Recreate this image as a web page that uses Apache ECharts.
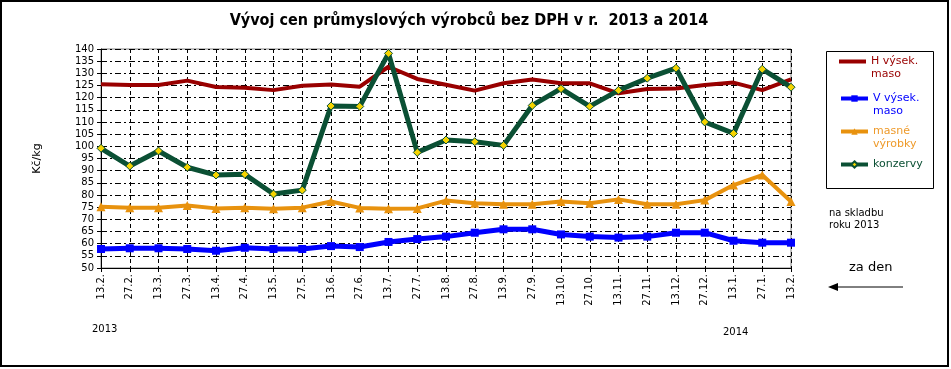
<!DOCTYPE html>
<html><head><meta charset="utf-8">
<script src="https://cdn.jsdelivr.net/npm/echarts@6/dist/echarts.min.js"></script>
<style>html,body{margin:0;padding:0;background:#fff}#c{width:951px;height:369px}</style>
</head><body><div id="c"></div>
<script>
const categories = ['13.2.','27.2.','13.3.','27.3.','13.4.','27.4.','13.5.','27.5.','13.6.','27.6.','13.7.','27.7.','13.8.','27.8.','13.9.','27.9.','13.10.','27.10.','13.11.','27.11.','13.12.','27.12.','13.1.','27.1.','13.2.'];
const hVysekMaso = [125.5,125.2,125.2,127.0,124.4,124.1,123.1,124.9,125.4,124.5,132.7,127.7,125.3,122.9,125.9,127.5,125.9,125.9,121.8,123.6,123.8,125.2,126.2,123.1,127.5];
const vVysekMaso = [57.8,58.1,58.1,57.8,57.1,58.3,57.8,57.8,59.0,58.6,60.7,61.9,62.9,64.5,65.9,65.9,63.8,62.9,62.5,62.9,64.5,64.5,61.2,60.4,60.4];
const masneVyrobky = [75.2,74.8,74.8,75.7,74.5,74.8,74.4,74.8,77.3,74.7,74.4,74.5,77.7,76.6,76.2,76.2,77.3,76.6,78.2,76.2,76.2,77.9,84.1,88.2,77.3];
const konzervy = [99.2,91.9,98.1,91.4,88.2,88.5,80.4,82.0,116.6,116.4,138.2,97.5,102.6,101.9,100.4,116.8,123.7,116.4,123.0,128.0,132.1,110.0,105.3,131.7,124.3];
const seriesNames = ['H výsek. maso','V výsek. maso','masné výrobky','konzervy'];
const yAxisTitle = 'Kč/kg';
const titleText = 'Vývoj cen průmyslových výrobců bez DPH v r.  2013 a 2014';

const FONT = 'DejaVu Sans';
const colors = {red:'#990000', blue:'#0000FF', orange:'#E8920E', green:'#0B5034', yellow:'#F5D400'};

function mkLegend(name, top, textColor, label, extra){
  return Object.assign({
    data:[name], left:839, top:top, orient:'vertical', padding:0, itemGap:0,
    itemWidth:27, itemHeight:8,
    lineStyle:{width:4},
    formatter:()=>label,
    textStyle:{fontFamily:FONT, fontSize:11, lineHeight:13, color:textColor}
  }, extra || {});
}

const chart = echarts.init(document.getElementById('c'));
chart.setOption({
  animation:false,
  backgroundColor:'#fff',
  title:{text:titleText, left:464, top:8, textAlign:'center',
    textStyle:{fontFamily:'DejaVu Sans Condensed', fontWeight:'bold', fontSize:16, color:'#000'}},
  grid:{left:101, top:49, right:160, bottom:101, show:true, borderColor:'#808080', borderWidth:1, backgroundColor:'transparent'},
  legend:[
    mkLegend(seriesNames[0], 42, colors.red, ' \nH výsek.\nmaso', {icon:'rect', itemHeight:4}),
    mkLegend(seriesNames[1], 79, colors.blue, ' \nV výsek.\nmaso'),
    mkLegend(seriesNames[2], 112, '#EE9A2A', ' \nmasné\nvýrobky'),
    mkLegend(seriesNames[3], 158, colors.green, 'konzervy')
  ],
  xAxis:{type:'category', data:categories, boundaryGap:false,
    axisLine:{lineStyle:{color:'#000', width:1}},
    axisTick:{show:true, length:4, alignWithLabel:true, lineStyle:{color:'#000'}},
    axisLabel:{rotate:90, fontFamily:FONT, fontSize:10, color:'#000', margin:6, interval:0},
    splitLine:{show:true, lineStyle:{color:'#000', type:[4,3], width:1}}
  },
  yAxis:{type:'value', min:50, max:140, interval:5,
    name:yAxisTitle, nameLocation:'middle', nameGap:58, nameRotate:90,
    nameTextStyle:{fontFamily:FONT, fontSize:11, color:'#000'},
    axisLine:{show:true, lineStyle:{color:'#000', width:1}},
    axisTick:{show:true, length:4, lineStyle:{color:'#000'}},
    axisLabel:{fontFamily:FONT, fontSize:10, color:'#000', margin:7},
    splitLine:{show:true, lineStyle:{color:'#000', type:[6,3,2,3], width:1}}
  },
  series:[
    {name:seriesNames[0], type:'line', data:hVysekMaso, symbol:'none',
      lineStyle:{color:colors.red, width:4}, itemStyle:{color:colors.red}, z:3},
    {name:seriesNames[1], type:'line', data:vVysekMaso, symbol:'rect', symbolSize:8,
      lineStyle:{color:colors.blue, width:5}, itemStyle:{color:colors.blue}, z:3},
    {name:seriesNames[2], type:'line', data:masneVyrobky, symbol:'triangle', symbolSize:9,
      lineStyle:{color:colors.orange, width:4}, itemStyle:{color:colors.orange}, z:3},
    {name:seriesNames[3], type:'line', data:konzervy, symbol:'diamond', symbolSize:8,
      lineStyle:{color:colors.green, width:5}, itemStyle:{color:colors.yellow, borderColor:colors.green, borderWidth:1}, z:4}
  ],
  graphic:[
    {type:'rect', shape:{x:1, y:1, width:947, height:365}, style:{fill:'none', stroke:'#000', lineWidth:2}, silent:true},
    {type:'rect', shape:{x:826.5, y:51.5, width:107, height:137}, style:{fill:'none', stroke:'#000', lineWidth:1}, silent:true},
    {type:'text', left:92, top:324, style:{text:'2013', font:'10px "DejaVu Sans"', fill:'#000'}},
    {type:'text', left:723, top:327, style:{text:'2014', font:'10px "DejaVu Sans"', fill:'#000'}},
    {type:'text', left:829, top:207, style:{text:'na skladbu\nroku 2013', font:'10px "DejaVu Sans"', lineHeight:12, fill:'#000'}},
    {type:'text', left:849, top:261, style:{text:'za den', font:'13px "DejaVu Sans"', fill:'#000'}},
    {type:'line', shape:{x1:836, y1:287, x2:903, y2:287}, style:{stroke:'#000', lineWidth:1}},
    {type:'polygon', shape:{points:[[828,287],[838,283],[838,291]]}, style:{fill:'#000'}}
  ]
});
</script></body></html>
